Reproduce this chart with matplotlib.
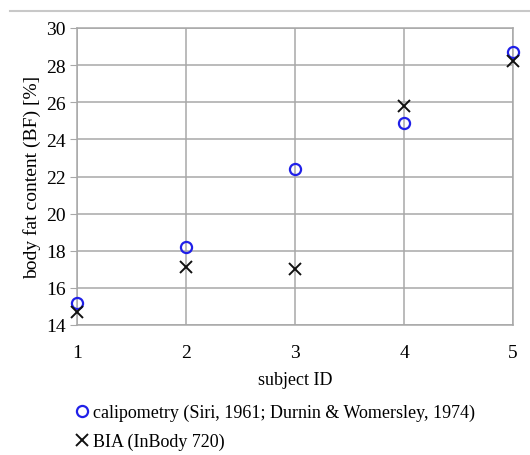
# coding=utf-8
"""
Body fat content per subject: calipometry vs. BIA
"""

import matplotlib.pyplot as plt
from matplotlib.lines import Line2D

# Datos
subjects = [1, 2, 3, 4, 5]
bf_calipometry = [15.2, 18.2, 22.4, 24.9, 28.7]
bf_bia = [14.7, 17.1, 17.0, 25.8, 28.2]

label_cal = 'calipometry (Siri, 1961; Durnin & Womersley, 1974)'
label_bia = 'BIA (InBody 720)'

plt.rcParams['font.family'] = ['Liberation Serif', 'DejaVu Serif']

fig = plt.figure(figsize=(5.30, 4.56), dpi=100)
ax = fig.add_axes([77 / 530, 1 - 326 / 456, (513 - 77) / 530, (326 - 29) / 456])

ax.plot(subjects, bf_calipometry, linestyle='none', marker='o', markersize=8,
        markerfacecolor='none', markeredgecolor='#2020e8', markeredgewidth=1.6,
        label=label_cal, clip_on=False, zorder=3)
ax.plot(subjects, bf_bia, linestyle='none', marker='x', markersize=8,
        color='#111111', markeredgewidth=1.4, label=label_bia,
        clip_on=False, zorder=3)

ax.set_xlim(1, 5)
ax.set_ylim(14, 30)
ax.set_xticks(subjects)
ax.set_yticks(range(14, 31, 2))
ax.grid(True, color='#a8a8a8', linewidth=1.1)
ax.set_axisbelow(True)
for sp in ax.spines.values():
    sp.set_color('#a8a8a8')
    sp.set_linewidth(1.1)

ax.tick_params(axis='y', length=5, color='#a8a8a8', labelsize=14, pad=3)
ax.tick_params(axis='x', length=0, labelsize=14, pad=14)
ax.set_xlabel('subject ID', fontsize=13, labelpad=7)
ax.set_ylabel('body fat content (BF) [%]', fontsize=14, labelpad=4)

# Leyenda debajo del grafico
fig.legend(loc='upper left', bbox_to_anchor=(77 / 530, 1 - 405 / 456),
           frameon=False, fontsize=13, handlelength=0.6, handletextpad=0.3,
           labelspacing=0.65, borderaxespad=0, borderpad=0)

# Linea superior
fig.add_artist(Line2D([10 / 530, 1], [1 - 12 / 456, 1 - 12 / 456],
                      color='#c8c8c8', linewidth=1.5))

fig.savefig('out.png', dpi=100)
